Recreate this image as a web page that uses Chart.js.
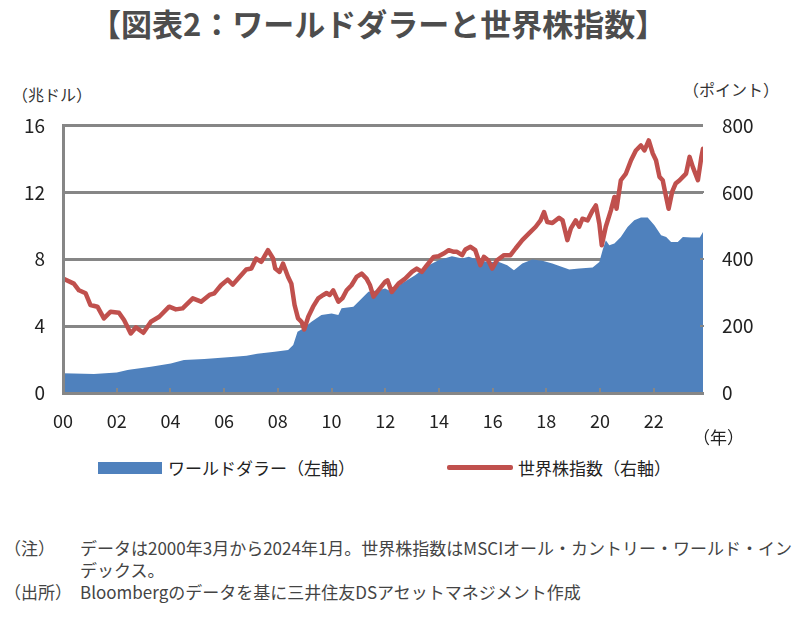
<!DOCTYPE html>
<html><head><meta charset="utf-8">
<script src="https://cdn.jsdelivr.net/npm/chart.js@4.4.1/dist/chart.umd.min.js"></script>
<style>
html,body{margin:0;padding:0;background:#fff}
body{width:800px;height:619px;overflow:hidden;position:relative;font-family:"Noto Sans CJK JP","Noto Sans",sans-serif;color:#333}
.t{position:absolute;white-space:nowrap;line-height:1}
#title{left:90px;top:7px;font-size:31px;font-weight:bold;color:#4d4d4d}
#wrap{position:absolute;left:0;top:95px;width:800px;height:345px}
.u{font-size:16px;color:#333}
.lg{font-size:17px;color:#222}
.n{font-size:17px;color:#444}
.sw{position:absolute}
</style></head>
<body>
<div class="t" id="title">【図表2：ワールドダラーと世界株指数】</div>
<div class="t u" style="left:12px;top:86px">（兆ドル）</div>
<div class="t u" style="left:683px;top:81px">（ポイント）</div>
<div id="wrap"><canvas id="c" width="800" height="345"></canvas></div>
<div class="t lg" style="left:693px;top:428px">（年）</div>
<div class="sw" style="left:98px;top:462px;width:64px;height:12px;background:#4F81BD"></div>
<div class="t lg" style="left:168px;top:459px">ワールドダラー（左軸）</div>
<div class="sw" style="left:447px;top:465px;width:66px;height:5px;background:#C0504D;border-radius:2px"></div>
<div class="t lg" style="left:518px;top:459px">世界株指数（右軸）</div>
<div class="t n" style="left:4px;top:539px">（注）</div>
<div class="t n" style="left:80px;top:539px">データは2000年3月から2024年1月。世界株指数はMSCIオール・カントリー・ワールド・イン</div>
<div class="t n" style="left:80px;top:561px">デックス。</div>
<div class="t n" style="left:4px;top:583px">（出所）</div>
<div class="t n" style="left:80px;top:583px">Bloombergのデータを基に三井住友DSアセットマネジメント作成</div>
<script>
// ---- data ----
const tickYears = [2000, 2002, 2004, 2006, 2008, 2010, 2012, 2014, 2016, 2018, 2020, 2022];
const tickLabels = ['00', '02', '04', '06', '08', '10', '12', '14', '16', '18', '20', '22'];
const startDate = 2000 + 2 / 12;   // March 2000
const endDate = 2024.0;            // January 2024

const worldDollarDates = [2000.17, 2001.32, 2002.17, 2002.57, 2002.69, 2003.44, 2004.18, 2004.67, 2005.43, 2006.18, 2006.55, 2007.0, 2007.4, 2008.05, 2008.55, 2008.74, 2008.90, 2009.11, 2009.42, 2009.79, 2010.17, 2010.42, 2010.54, 2010.98, 2011.29, 2011.54, 2011.91, 2012.16, 2012.41, 2012.78, 2013.28, 2013.78, 2014.15, 2014.65, 2015.03, 2015.28, 2015.65, 2016.02, 2016.40, 2016.71, 2016.96, 2017.27, 2017.64, 2018.02, 2018.39, 2019.02, 2019.39, 2019.89, 2020.14, 2020.26, 2020.38, 2020.51, 2020.70, 2020.94, 2021.19, 2021.44, 2021.69, 2021.94, 2022.19, 2022.44, 2022.63, 2022.81, 2023.06, 2023.25, 2023.56, 2023.88, 2024.00];
const worldDollarValues = [1.18, 1.13, 1.22, 1.37, 1.41, 1.57, 1.77, 1.97, 2.03, 2.13, 2.17, 2.22, 2.35, 2.47, 2.57, 2.87, 3.66, 3.86, 4.26, 4.66, 4.76, 4.66, 5.06, 5.15, 5.65, 6.05, 6.15, 6.25, 6.05, 6.55, 7.04, 7.64, 7.94, 8.18, 8.04, 8.14, 7.94, 7.84, 7.84, 7.64, 7.34, 7.74, 7.98, 7.90, 7.74, 7.38, 7.44, 7.50, 7.84, 8.54, 9.13, 8.84, 8.94, 9.33, 9.93, 10.33, 10.49, 10.49, 10.03, 9.43, 9.33, 9.03, 9.03, 9.33, 9.30, 9.30, 9.63];

const worldStockDates = [2000.17, 2000.57, 2000.76, 2001.01, 2001.19, 2001.45, 2001.69, 2001.94, 2002.25, 2002.44, 2002.69, 2002.88, 2003.16, 2003.44, 2003.75, 2004.12, 2004.37, 2004.62, 2005.00, 2005.31, 2005.62, 2005.80, 2006.05, 2006.30, 2006.49, 2006.74, 2006.99, 2007.18, 2007.36, 2007.55, 2007.80, 2007.99, 2008.07, 2008.23, 2008.36, 2008.55, 2008.67, 2008.79, 2008.92, 2009.05, 2009.15, 2009.30, 2009.48, 2009.67, 2009.86, 2009.98, 2010.10, 2010.23, 2010.42, 2010.57, 2010.73, 2010.91, 2011.10, 2011.29, 2011.47, 2011.60, 2011.73, 2011.91, 2012.16, 2012.25, 2012.41, 2012.66, 2012.91, 2013.16, 2013.34, 2013.53, 2013.72, 2013.97, 2014.15, 2014.34, 2014.53, 2014.72, 2014.84, 2015.03, 2015.15, 2015.34, 2015.52, 2015.71, 2015.84, 2016.00, 2016.15, 2016.33, 2016.59, 2016.83, 2017.02, 2017.27, 2017.52, 2017.77, 2017.95, 2018.08, 2018.20, 2018.39, 2018.64, 2018.77, 2018.95, 2019.08, 2019.26, 2019.39, 2019.51, 2019.70, 2019.89, 2020.01, 2020.14, 2020.23, 2020.38, 2020.57, 2020.70, 2020.78, 2020.94, 2021.13, 2021.32, 2021.50, 2021.69, 2021.82, 2021.98, 2022.13, 2022.25, 2022.38, 2022.50, 2022.60, 2022.72, 2022.85, 2022.98, 2023.13, 2023.25, 2023.37, 2023.50, 2023.62, 2023.81, 2023.94, 2024.00];
const worldStockValues = [342, 327, 307, 298, 263, 258, 223, 243, 240, 218, 178, 196, 180, 213, 228, 258, 250, 253, 283, 273, 293, 298, 322, 339, 324, 347, 369, 372, 402, 392, 427, 402, 372, 362, 387, 347, 327, 263, 223, 213, 190, 228, 258, 283, 293, 299, 293, 307, 273, 283, 307, 322, 347, 357, 342, 322, 288, 307, 332, 337, 302, 327, 342, 362, 372, 362, 382, 407, 409, 417, 427, 422, 422, 412, 429, 437, 427, 382, 407, 397, 372, 397, 412, 412, 432, 457, 477, 497, 516, 541, 511, 508, 524, 516, 457, 492, 516, 497, 521, 516, 546, 561, 506, 442, 497, 546, 586, 551, 636, 656, 696, 725, 740, 725, 755, 716, 696, 646, 636, 596, 551, 601, 626, 636, 646, 656, 706, 676, 636, 706, 730];

const seriesNames = ['ワールドダラー（左軸）', '世界株指数（右軸）'];

// ---- chart ----
const toPoints = (xs, ys) => xs.map((x, i) => ({x: x, y: ys[i]}));
const GRID = '#868686';
const tickFont = {family: '"Noto Sans CJK JP","Noto Sans",sans-serif', size: 18};

const innerTicks = {
  id: 'innerTicks',
  afterDatasetsDraw(chart) {
    const {ctx, chartArea: a, scales: {x, y2}} = chart;
    ctx.save();
    ctx.strokeStyle = GRID;
    ctx.lineWidth = 2;
    x.ticks.forEach((t, i) => {
      if (i === 0) return;
      const px = Math.round(x.getPixelForValue(t.value));
      ctx.beginPath(); ctx.moveTo(px, a.bottom); ctx.lineTo(px, a.bottom - 5); ctx.stroke();
    });
    y2.ticks.forEach((t) => {
      if (t.value === 0 || t.value === 800) return;
      const py = Math.round(y2.getPixelForValue(t.value));
      ctx.beginPath(); ctx.moveTo(a.right + 1, py); ctx.lineTo(a.right - 3, py); ctx.stroke();
    });
    ctx.restore();
  }
};

new Chart(document.getElementById('c'), {
  type: 'line',
  data: {
    datasets: [
      {
        label: seriesNames[1],
        data: toPoints(worldStockDates, worldStockValues),
        yAxisID: 'y2',
        borderColor: '#C0504D',
        borderWidth: 4.5,
        borderJoinStyle: 'round',
        borderCapStyle: 'round',
        pointRadius: 0,
        tension: 0,
        fill: false,
        order: 0
      },
      {
        label: seriesNames[0],
        data: toPoints(worldDollarDates, worldDollarValues),
        yAxisID: 'y',
        borderWidth: 0,
        borderColor: 'rgba(0,0,0,0)',
        backgroundColor: '#4F81BD',
        pointRadius: 0,
        tension: 0,
        fill: 'origin',
        order: 1
      }
    ]
  },
  options: {
    responsive: false,
    animation: false,
    layout: {padding: {top: 20, left: 0, right: 0, bottom: 0}},
    plugins: {legend: {display: false}, tooltip: {enabled: false}},
    scales: {
      x: {
        type: 'linear',
        min: startDate,
        max: endDate,
        afterBuildTicks: (s) => { s.ticks = tickYears.map(yv => ({value: yv + 2 / 12})); },
        afterFit: (s) => { s.height = 47; },
        grid: {display: false, drawTicks: false},
        border: {display: true, color: GRID, width: 3, z: 1},
        ticks: {
          autoSkip: false, maxRotation: 0, padding: 17, color: '#222', font: tickFont,
          callback: (v, i) => tickLabels[i]
        }
      },
      y: {
        position: 'left',
        min: 0, max: 16,
        afterFit: (s) => { s.width = 63; },
        grid: {color: GRID, lineWidth: 3, drawTicks: false},
        border: {display: true, color: GRID, width: 3, z: 1},
        ticks: {stepSize: 4, padding: 18, color: '#222', font: {family: tickFont.family, size: 19}}
      },
      y2: {
        position: 'right',
        min: 0, max: 800,
        afterFit: (s) => { s.width = 97; },
        grid: {display: false, drawTicks: false},
        border: {display: false},
        ticks: {stepSize: 200, padding: 19, color: '#222', font: {family: tickFont.family, size: 19}}
      }
    }
  },
  plugins: [innerTicks]
});
</script>
</body></html>
